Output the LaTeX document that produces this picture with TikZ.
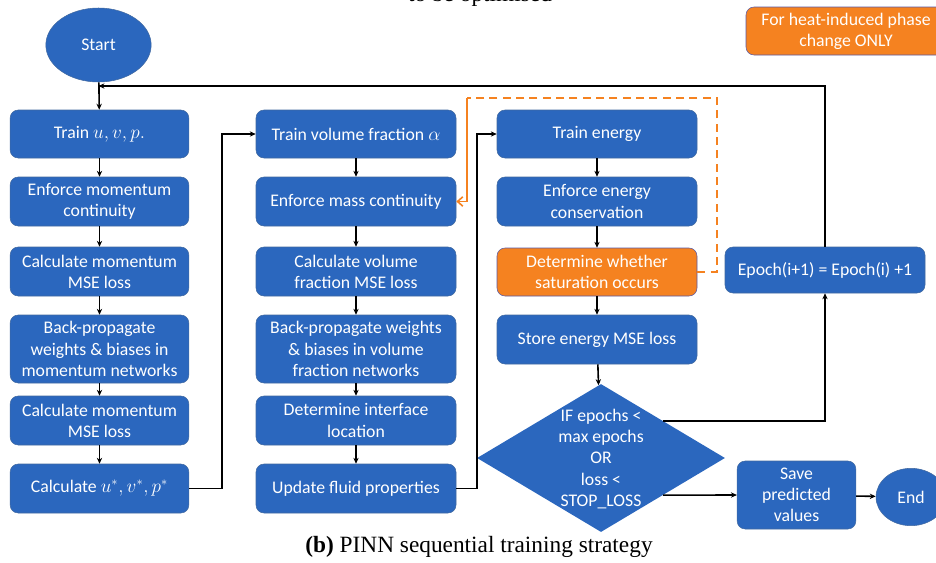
\documentclass[tikz,border=0pt]{standalone}
\usepackage{amsmath}
\usepackage{fontspec}
\setmainfont{Liberation Serif}
\newfontfamily\boxfont{Carlito}
\usepackage{tikz}
\usetikzlibrary{shapes.geometric,arrows.meta}

\definecolor{pinnblue}{RGB}{43,103,190}
\definecolor{pinnedge}{RGB}{65,105,160}
\definecolor{pinnorange}{RGB}{245,130,32}

\begin{document}
\begin{tikzpicture}[x=0.75pt,y=-0.75pt,
		flowbox/.style={rectangle, rounded corners=6pt, fill=pinnblue, draw=pinnedge, line width=0.4pt, text=white, align=center, inner sep=1pt, font=\boxfont\fontsize{13.3}{15.9}\selectfont},
		orangebox/.style={flowbox, fill=pinnorange, draw=gray!70!blue},
		flowarrow/.style={line width=1.2pt, -{Stealth[length=4.5pt,width=4pt]}},
		flowline/.style={line width=1.2pt},
		orangeline/.style={draw=pinnorange, line width=1.2pt}]
		
		\useasboundingbox (0,0) rectangle (936,562);
		
		\node[font=\fontsize{17.5}{20}\selectfont, anchor=base] 
		(topText) at (480,1) {to be optimised};
		
		\node[ellipse, fill=pinnblue, draw=pinnedge, text=white, minimum width=79pt, minimum height=55.5pt, font=\boxfont\fontsize{13.3}{15}\selectfont] 
		(startNode) at (98.5,45) {Start};
		
		\node[orangebox, minimum width=150pt, minimum height=36pt] 
		(legendNode) at (846,31) {For heat-induced phase\\change ONLY};
		
		% First column
		
		\node[flowbox, minimum width=134pt, minimum height=36pt] 
		(trainUVP) at (99.5,134) {Train $u,v,p.$};
		
		\node[flowbox, minimum width=134pt, minimum height=36.75pt] 
		(enforceMom) at (99.5,201.5) {Enforce momentum\\continuity};
		
		\node[flowbox, minimum width=134pt, minimum height=36.75pt] 
		(calcMomA) at (99.5,271.5) {Calculate momentum\\MSE loss};
		
		\node[flowbox, minimum width=134pt, minimum height=51pt] 
		(backMom) at (99.5,349) {Back-propagate\\weights \& biases in\\momentum networks};
		
		\node[flowbox, minimum width=134pt, minimum height=36.75pt] 
		(calcMomB) at (99.5,420.5) {Calculate momentum\\MSE loss};
		
		\node[flowbox, minimum width=134pt, minimum height=36.75pt] 
		(calcStar) at (99.5,488.5) {Calculate $u^*,v^*,p^*$};
		
		% Second column
		
		\node[flowbox, minimum width=150pt, minimum height=36pt] 
		(trainAlpha) at (356,134) {Train volume fraction $\alpha$};
		
		\node[flowbox, minimum width=150pt, minimum height=36.75pt] 
		(massCont) at (356,201.5) {Enforce mass continuity};
		
		\node[flowbox, minimum width=150pt, minimum height=36.75pt] 
		(calcVol) at (356,271.5) {Calculate volume\\fraction MSE loss};
		
		\node[flowbox, minimum width=150pt, minimum height=51pt] 
		(backVol) at (356,349) {Back-propagate weights\\\& biases in volume\\fraction networks};
		
		\node[flowbox, minimum width=150pt, minimum height=36.75pt] 
		(interface) at (356,420.5) {Determine interface\\location};
		
		\node[flowbox, minimum width=150pt, minimum height=36.75pt] 
		(fluidProps) at (356,488.5) {Update fluid properties};
		
		% Third column
		
		\node[flowbox, minimum width=150pt, minimum height=36pt] 
		(trainEnergy) at (597,134) {Train energy};
		
		\node[flowbox, minimum width=150pt, minimum height=36.75pt] 
		(energyCons) at (597,201.5) {Enforce energy\\conservation};
		
		\node[orangebox, minimum width=150pt, minimum height=36pt] 
		(saturation) at (597,272) {Determine whether\\saturation occurs};
		
		\node[flowbox, minimum width=150pt, minimum height=36.75pt] 
		(storeEnergy) at (597,339.5) {Store energy MSE loss};
		
		\node[diamond, fill=pinnblue, minimum width=186pt, minimum height=111pt, inner sep=0pt] 
		(decision) at (601,458) {};
		\node[text=white, align=center, font=\boxfont\fontsize{13.3}{16.1}\selectfont] 
		(decisionText) at (601,459) {IF epochs <\\max epochs\\OR\\loss <\\STOP\_LOSS};
		
		\node[flowbox, minimum width=150pt, minimum height=34.5pt] 
		(epochNode) at (825,270) {Epoch(i+1) = Epoch(i) +1};
		
		\node[flowbox, minimum width=89pt, minimum height=51pt] 
		(saveNode) at (796.5,495) {Save\\predicted\\values};
		
		\node[ellipse, fill=pinnblue, draw=pinnedge, text=white, minimum width=52.5pt, minimum height=43pt, font=\boxfont\fontsize{13.3}{15}\selectfont] 
		(endNode) at (911,497) {End};
		
		% Arrows down the columns
		
		\draw[flowarrow] (startNode) -- (trainUVP);
		\draw[flowarrow] (trainUVP) -- (enforceMom);
		\draw[flowarrow] (enforceMom) -- (calcMomA);
		\draw[flowarrow] (calcMomA) -- (backMom);
		\draw[flowarrow] (backMom) -- (calcMomB);
		\draw[flowarrow] (calcMomB) -- (calcStar);
		
		\draw[flowarrow] (trainAlpha) -- (massCont);
		\draw[flowarrow] (massCont) -- (calcVol);
		\draw[flowarrow] (calcVol) -- (backVol);
		\draw[flowarrow] (backVol) -- (interface);
		\draw[flowarrow] (interface) -- (fluidProps);
		
		\draw[flowarrow] (trainEnergy) -- (energyCons);
		\draw[flowarrow] (energyCons) -- (saturation);
		\draw[flowarrow] (saturation) -- (storeEnergy);
		\draw[flowarrow] (storeEnergy) -- (decision);
		
		% Links between columns
		
		\coordinate (bendA) at (222,488.5);
		\coordinate (bendB) at (477,488.5);
		\coordinate (loopEnd) at (98.5,86);
		
		\draw[flowline] (calcStar.east) -- (bendA);
		\draw[flowarrow] (bendA) |- (trainAlpha.west);
		
		\draw[flowline] (fluidProps.east) -- (bendB);
		\draw[flowarrow] (bendB) |- (trainEnergy.west);
		
		\draw[flowarrow] (decision.north east) -| (epochNode.south);
		\draw[flowarrow] (epochNode.north) |- (loopEnd);
		
		\draw[flowarrow] (decision.south east) -- (saveNode.west);
		\draw[flowarrow] (saveNode) -- (endNode);
		
		% Phase change path
		
		\coordinate (dashTopRight) at (717,98);
		\coordinate (dashTopLeft) at (467,98);
		
		\draw[orangeline, dashed, dash pattern=on 6pt off 4pt] (saturation.east) -| (dashTopRight) -- (dashTopLeft);
		\draw[orangeline, -{Straight Barb[length=4pt,width=7pt]}] (dashTopLeft) |- (massCont.east);
		
		% Caption
		
		\node[font=\fontsize{17.5}{20}\selectfont] 
		(caption) at (479,547) {\textbf{(b)} PINN sequential training strategy};
		
\end{tikzpicture}
\end{document}
